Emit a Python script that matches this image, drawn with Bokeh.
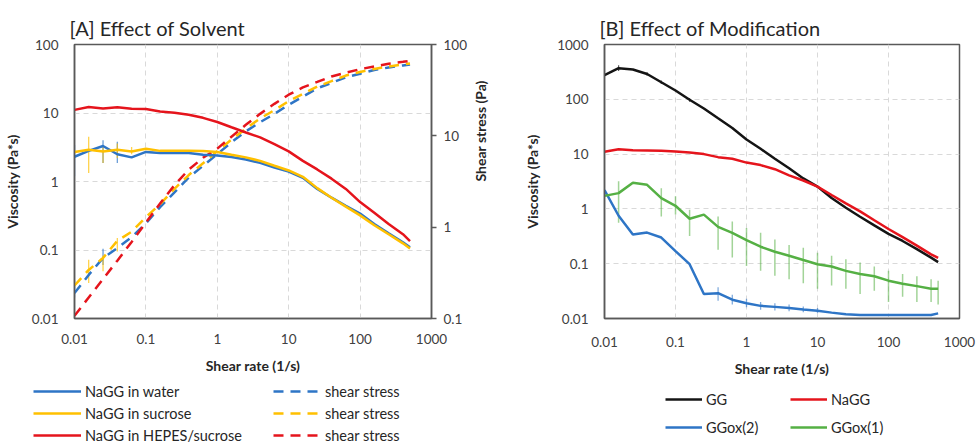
import math
from bokeh.plotting import figure
from bokeh.models import (Range1d, LogScale, LogAxis, FixedTicker, CustomJSTickFormatter,
                          Legend, LegendItem)
from bokeh.layouts import row, column
from bokeh.embed import file_html
from bokeh.resources import INLINE

# ---------------- data ----------------
shear_rate = [0.01, 0.0158, 0.0251, 0.0398, 0.0631, 0.1, 0.158, 0.251, 0.398, 0.631,
              1, 1.58, 2.51, 3.98, 6.31, 10, 15.8, 25.1, 39.8, 63.1,
              100, 158, 251, 398, 500]

# Panel A: viscosity (Pa*s)
visc_water = [2.3, 2.8, 3.3, 2.5, 2.25, 2.7, 2.6, 2.6, 2.6, 2.45,
              2.4, 2.28, 2.1, 1.87, 1.6, 1.40, 1.13, 0.78, 0.58, 0.44,
              0.34, 0.24, 0.175, 0.13, 0.11]
visc_sucrose = [2.7, 2.9, 2.75, 2.9, 2.75, 3.0, 2.8, 2.8, 2.8, 2.78,
                2.7, 2.45, 2.25, 2.0, 1.7, 1.45, 1.17, 0.80, 0.58, 0.43,
                0.32, 0.23, 0.17, 0.125, 0.105]
visc_hepes = [11.1, 12.2, 11.6, 12.1, 11.5, 11.4, 10.5, 10.1, 9.4, 8.5,
              7.4, 6.2, 5.2, 4.4, 3.5, 2.75, 2.0, 1.5, 1.1, 0.78,
              0.50, 0.35, 0.24, 0.17, 0.135]
# Panel A: shear stress (Pa)
stress_water = [0.19, 0.30, 0.46, 0.59, 0.78, 1.10, 1.66, 2.4, 3.5, 4.7,
                6.3, 8.5, 11.2, 14.1, 17.4, 21.9, 26.9, 33.1, 38.0, 43.7,
                47.9, 52.5, 56.0, 59.0, 60.5]
stress_sucrose = [0.23, 0.34, 0.46, 0.71, 0.89, 1.29, 1.78, 2.63, 3.72, 5.0,
                  6.8, 9.1, 12.0, 15.5, 19.1, 24.0, 28.8, 34.7, 39.8, 45.7,
                  50.1, 54.0, 57.5, 60.5, 62.0]
stress_hepes = [0.107, 0.17, 0.27, 0.43, 0.69, 1.12, 1.82, 2.88, 4.27, 5.75,
                7.24, 9.77, 13.2, 17.4, 22.4, 28.2, 33.9, 38.9, 44.7, 49.0,
                53.7, 57.5, 61.7, 64.6, 66.1]
# Panel A error bars
err_visc_water_x = [0.01, 0.0251, 0.0398]
err_visc_water_lo = [1.19, 1.86, 1.86]
err_visc_water_hi = [3.4, 4.0, 3.8]
err_visc_sucrose_x = [0.0158, 0.0251, 0.0398, 0.0631]
err_visc_sucrose_lo = [1.33, 1.86, 2.2, 2.5]
err_visc_sucrose_hi = [4.5, 3.2, 3.6, 3.2]
err_stress_water_x = [0.01, 0.0251]
err_stress_water_lo = [0.17, 0.385]
err_stress_water_hi = [0.26, 0.58]
err_stress_sucrose_x = [0.0158, 0.0251, 0.0398]
err_stress_sucrose_lo = [0.245, 0.33, 0.54]
err_stress_sucrose_hi = [0.44, 0.49, 0.76]

# Panel B: viscosity (Pa*s)
visc_gg = [275, 370, 350, 290, 205, 145, 98, 68, 45, 30,
           18.5, 12.5, 8.2, 5.5, 3.6, 2.55, 1.58, 1.05, 0.72, 0.50,
           0.35, 0.26, 0.184, 0.129, 0.107]
visc_nagg = [11.0, 12.3, 11.7, 11.6, 11.5, 11.1, 10.7, 10.0, 8.8, 8.2,
             7.0, 6.3, 5.3, 4.1, 3.3, 2.55, 1.79, 1.26, 0.90, 0.62,
             0.43, 0.305, 0.214, 0.148, 0.128]
visc_ggox2 = [2.2, 0.75, 0.34, 0.37, 0.30, 0.17, 0.098, 0.028, 0.029, 0.022,
              0.019, 0.017, 0.0163, 0.0155, 0.0146, 0.0138, 0.0128, 0.0120, 0.0116, 0.0116,
              0.0116, 0.0116, 0.0116, 0.0116, 0.0124]
visc_ggox1 = [1.73, 1.94, 3.0, 2.75, 1.57, 1.14, 0.66, 0.785, 0.47, 0.366,
              0.27, 0.204, 0.165, 0.14, 0.117, 0.098, 0.089, 0.074, 0.065, 0.059,
              0.049, 0.043, 0.039, 0.035, 0.035]
# Panel B error bars
err_ggox1_x = [0.0158, 0.0631, 0.1, 0.158, 0.398, 0.631, 1, 1.58, 2.51, 3.98, 6.31,
               10, 15.8, 25.1, 39.8, 63.1, 100, 158, 251, 398, 500]
err_ggox1_lo = [0.56, 0.73, 0.79, 0.32, 0.18, 0.13, 0.091, 0.074, 0.06, 0.052, 0.044,
                0.035, 0.04, 0.035, 0.028, 0.032, 0.02, 0.025, 0.02, 0.02, 0.018]
err_ggox1_hi = [3.2, 2.39, 1.7, 0.96, 0.73, 0.59, 0.45, 0.366, 0.275, 0.22, 0.195,
                0.158, 0.14, 0.12, 0.105, 0.089, 0.074, 0.065, 0.059, 0.052, 0.049]
err_ggox2_x = [0.398, 0.631, 1, 1.58, 2.51, 3.98, 6.31, 10]
err_ggox2_lo = [0.021, 0.018, 0.016, 0.0145, 0.014, 0.0135, 0.013, 0.0125]
err_ggox2_hi = [0.037, 0.027, 0.023, 0.020, 0.019, 0.018, 0.0165, 0.0155]
err_gg_x = [0.0158, 0.0398, 0.0631, 0.158]
err_gg_lo = [330, 270, 190, 90]
err_gg_hi = [420, 310, 220, 106]

x_ticks = [0.01, 0.1, 1, 10, 100, 1000]
yA_ticks = [0.01, 0.1, 1, 10, 100]
yA2_ticks = [0.1, 1, 10, 100]
yB_ticks = [0.01, 0.1, 1, 10, 100, 1000]

# ---------------- style ----------------
FONT = "Lato"
BLUE = "#2E75C6"
YELLOW = "#FFC000"
RED = "#E5141C"
GREEN = "#55B044"
BLACK = "#141414"
AXIS_C = "#595959"
TICK_C = "#404040"
LABEL_C = "#262626"
fmt_code = "return String(tick);"
MAIN_H = 380
LEG_H = 64
W_A = 500
W_B = 478
lw = 2.5
dash = "10 7"


def style_axis(ax, ticks, label_standoff, ticks_out=0):
    ax.ticker = FixedTicker(ticks=ticks, minor_ticks=[])
    ax.formatter = CustomJSTickFormatter(code=fmt_code)
    ax.major_label_text_font = FONT
    ax.major_label_text_font_size = "13.5px"
    ax.major_label_text_color = TICK_C
    ax.axis_label_text_font = FONT
    ax.axis_label_text_font_size = "14px"
    ax.axis_label_text_font_style = "bold"
    ax.axis_label_text_color = LABEL_C
    ax.axis_line_color = AXIS_C
    ax.axis_line_width = 1.5
    ax.minor_tick_line_color = None
    ax.major_tick_in = 0
    ax.major_tick_out = ticks_out
    if ticks_out == 0:
        ax.major_tick_line_color = None
    else:
        ax.major_tick_line_color = AXIS_C
        ax.major_tick_line_width = 1.5
    ax.major_label_standoff = label_standoff


def make_fig(width, title, y_range, bl, br, bt, bb):
    p = figure(width=width, height=MAIN_H, x_axis_type="log", y_axis_type="log",
               x_range=Range1d(0.01, 1000), y_range=y_range,
               output_backend="svg", toolbar_location=None,
               min_border_left=bl, min_border_right=br, min_border_top=bt,
               min_border_bottom=bb, title=title)
    p.title.text_font = FONT
    p.title.text_font_size = "20px"
    p.title.text_font_style = "normal"
    p.title.text_color = LABEL_C
    p.title.offset = -5
    p.title.standoff = 9
    p.outline_line_color = AXIS_C
    p.outline_line_width = 1.5
    p.background_fill_color = "white"
    p.border_fill_color = "white"
    for g in (p.xgrid[0], p.ygrid[0]):
        g.grid_line_color = "#D9D9D9"
        g.grid_line_dash = "5 4"
        g.grid_line_width = 1
    p.xgrid[0].ticker = FixedTicker(ticks=x_ticks, minor_ticks=[])
    return p


def make_legend_fig(width):
    # a strip holding only the legend; its ranges sit away from the data,
    # so the sample lines drawn in it stay out of view
    q = figure(width=width, height=LEG_H, x_range=Range1d(-3, -2), y_range=Range1d(-3, -2),
               x_axis_location=None, y_axis_location=None,
               output_backend="svg", toolbar_location=None,
               min_border=0, min_border_left=0, min_border_right=0,
               min_border_top=0, min_border_bottom=0)
    q.outline_line_color = None
    q.grid.visible = False
    q.background_fill_color = "white"
    q.border_fill_color = "white"
    return q


def legend_row(items, loc, glyph_w, label_w):
    return Legend(items=items, location=loc, orientation="horizontal",
                  glyph_width=glyph_w, glyph_height=18, label_height=18,
                  label_width=label_w, label_standoff=4, spacing=0, padding=0, margin=0,
                  border_line_alpha=0, background_fill_alpha=0,
                  label_text_font=FONT, label_text_font_size="14.5px",
                  label_text_color=LABEL_C)


# ---------------- Panel A ----------------
pA = make_fig(W_A, "[A] Effect of Solvent", Range1d(0.01, 100), 73, 68, 43, 59)
pA.extra_y_ranges = {"stress": Range1d(0.1, 100)}
pA.extra_y_scales = {"stress": LogScale()}
pA.ygrid[0].ticker = FixedTicker(ticks=yA_ticks, minor_ticks=[])
style_axis(pA.xaxis[0], x_ticks, 15)
pA.xaxis[0].axis_label = "Shear rate (1/s)"
pA.xaxis[0].axis_label_standoff = 10
style_axis(pA.yaxis[0], yA_ticks, 16)
pA.yaxis[0].axis_label = "Viscosity (Pa*s)"
pA.yaxis[0].axis_label_standoff = 8
ax2 = LogAxis(y_range_name="stress", axis_label="Shear stress (Pa)")
style_axis(ax2, yA2_ticks, 7, ticks_out=5)
ax2.axis_label_standoff = 11
if "axis_label_orientation" in ax2.properties():
    ax2.axis_label_orientation = math.pi / 2
pA.add_layout(ax2, "right")

ew = 1.3
pA.segment(err_visc_water_x, err_visc_water_lo, err_visc_water_x, err_visc_water_hi,
           line_color=BLUE, line_alpha=0.7, line_width=ew)
pA.segment(err_visc_sucrose_x, err_visc_sucrose_lo, err_visc_sucrose_x, err_visc_sucrose_hi,
           line_color=YELLOW, line_alpha=0.7, line_width=ew)
pA.segment(err_stress_water_x, err_stress_water_lo, err_stress_water_x, err_stress_water_hi,
           line_color=BLUE, line_alpha=0.7, line_width=ew, y_range_name="stress")
pA.segment(err_stress_sucrose_x, err_stress_sucrose_lo, err_stress_sucrose_x, err_stress_sucrose_hi,
           line_color=YELLOW, line_alpha=0.7, line_width=ew, y_range_name="stress")

pA.line(shear_rate, stress_water, line_color=BLUE, line_width=lw, line_dash=dash,
        y_range_name="stress")
pA.line(shear_rate, stress_sucrose, line_color=YELLOW, line_width=lw, line_dash=dash,
        y_range_name="stress")
pA.line(shear_rate, stress_hepes, line_color=RED, line_width=lw, line_dash=dash,
        y_range_name="stress")
pA.line(shear_rate, visc_water, line_color=BLUE, line_width=lw)
pA.line(shear_rate, visc_hepes, line_color=RED, line_width=lw)
pA.line(shear_rate, visc_sucrose, line_color=YELLOW, line_width=lw)

# legend strip for panel A
lA = make_legend_fig(W_A)
kv_w = lA.line(shear_rate, visc_water, line_color=BLUE, line_width=lw)
kv_s = lA.line(shear_rate, visc_sucrose, line_color=YELLOW, line_width=lw)
kv_h = lA.line(shear_rate, visc_hepes, line_color=RED, line_width=lw)
ks_w = lA.line(shear_rate, stress_water, line_color=BLUE, line_width=lw, line_dash=dash)
ks_s = lA.line(shear_rate, stress_sucrose, line_color=YELLOW, line_width=lw, line_dash=dash)
ks_h = lA.line(shear_rate, stress_hepes, line_color=RED, line_width=lw, line_dash=dash)
for (r1, t1, r2, t2, yy) in [(kv_w, "NaGG in water", ks_w, "shear stress", 44),
                             (kv_s, "NaGG in sucrose", ks_s, "shear stress", 22),
                             (kv_h, "NaGG in HEPES/sucrose", ks_h, "shear stress", 0)]:
    lA.add_layout(legend_row([LegendItem(label=t1, renderers=[r1]),
                              LegendItem(label=t2, renderers=[r2])],
                             (33, yy), 48, 188), "center")

# ---------------- Panel B ----------------
pB = make_fig(W_B, "[B] Effect of Modification", Range1d(0.01, 1000), 104, 19, 44, 62)
pB.ygrid[0].ticker = FixedTicker(ticks=yB_ticks, minor_ticks=[])
style_axis(pB.xaxis[0], x_ticks, 18)
pB.xaxis[0].axis_label = "Shear rate (1/s)"
pB.xaxis[0].axis_label_standoff = 10
style_axis(pB.yaxis[0], yB_ticks, 16)
pB.yaxis[0].axis_label = "Viscosity (Pa*s)"
pB.yaxis[0].axis_label_standoff = 13

pB.segment(err_ggox1_x, err_ggox1_lo, err_ggox1_x, err_ggox1_hi,
           line_color=GREEN, line_alpha=0.55, line_width=1.5)
pB.segment(err_ggox2_x, err_ggox2_lo, err_ggox2_x, err_ggox2_hi,
           line_color=BLUE, line_alpha=0.6, line_width=1.3)
pB.segment(err_gg_x, err_gg_lo, err_gg_x, err_gg_hi,
           line_color=BLACK, line_alpha=0.7, line_width=1.2)

pB.line(shear_rate, visc_gg, line_color=BLACK, line_width=lw)
pB.line(shear_rate, visc_nagg, line_color=RED, line_width=lw)
pB.line(shear_rate, visc_ggox2, line_color=BLUE, line_width=lw)
pB.line(shear_rate, visc_ggox1, line_color=GREEN, line_width=lw)

# legend strip for panel B
lB = make_legend_fig(W_B)
k_gg = lB.line(shear_rate, visc_gg, line_color=BLACK, line_width=lw)
k_nagg = lB.line(shear_rate, visc_nagg, line_color=RED, line_width=lw)
k_ox2 = lB.line(shear_rate, visc_ggox2, line_color=BLUE, line_width=lw)
k_ox1 = lB.line(shear_rate, visc_ggox1, line_color=GREEN, line_width=lw)
for (r1, t1, r2, t2, yy) in [(k_gg, "GG", k_nagg, "NaGG", 36),
                             (k_ox2, "GGox(2)", k_ox1, "GGox(1)", 8)]:
    lB.add_layout(legend_row([LegendItem(label=t1, renderers=[r1]),
                              LegendItem(label=t2, renderers=[r2])],
                             (165, yy), 37, 84), "center")

layout = column(row(pA, pB), row(lA, lB))
open("out.html", "w").write(file_html(layout, INLINE))
